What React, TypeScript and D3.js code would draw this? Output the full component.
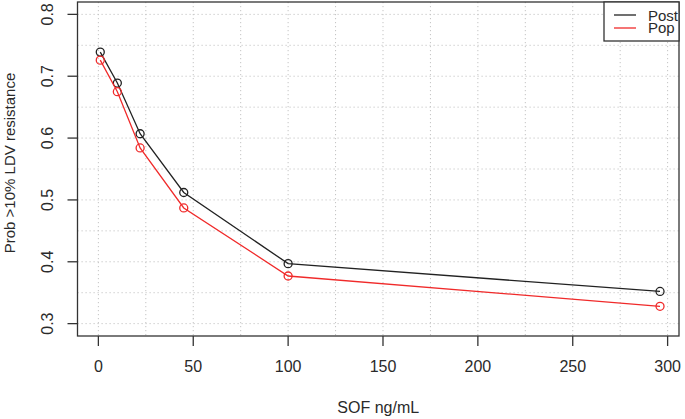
import React from "react";
import * as d3 from "d3";

const sofConc = [1, 10, 22, 45, 100, 296];
const postProb = [0.739, 0.689, 0.607, 0.512, 0.397, 0.352];
const popProb = [0.726, 0.675, 0.584, 0.487, 0.377, 0.328];
const xTicks = [0, 50, 100, 150, 200, 250, 300];
const yTicks = [0.3, 0.4, 0.5, 0.6, 0.7, 0.8];
const xGrid = [0, 25, 50, 75, 100, 125, 150, 175, 200, 225, 250, 275, 300];
const yGrid = [0.3, 0.35, 0.4, 0.45, 0.5, 0.55, 0.6, 0.65, 0.7, 0.75, 0.8];
const seriesNames = ["Post", "Pop"];
const seriesColors = ["#222222", "#f02a2a"];

const W = 685;
const H = 419;
const FONT = "'Liberation Sans', Arial, Helvetica, sans-serif";

export default function App() {
  const x = d3.scaleLinear().domain([-11, 306]).range([77.5, 679]);
  const y = d3.scaleLinear().domain([0.28, 0.82]).range([336, 2]);
  const [x0, x1] = x.range();
  const [y0, y1] = y.range();
  const line = d3
    .line<number>()
    .x((_, i) => x(sofConc[i]))
    .y((d) => y(d));
  const series = [postProb, popProb];

  return (
    <svg
      width={W}
      height={H}
      style={{ position: "absolute", left: 0, top: 0, background: "#fff" }}
      fontFamily={FONT}
    >
      <rect x={0} y={0} width={W} height={H} fill="#fff" />
      {/* grid */}
      <g stroke="#c4c4c4" strokeWidth={1} strokeDasharray="1.2 2.8">
        {xGrid.map((v) => (
          <line key={"gx" + v} x1={x(v)} x2={x(v)} y1={y1} y2={y0} />
        ))}
        {yGrid.map((v) => (
          <line key={"gy" + v} x1={x0} x2={x1} y1={y(v)} y2={y(v)} />
        ))}
      </g>
      {/* series */}
      {series.map((s, si) => (
        <g key={"s" + si} stroke={seriesColors[si]} fill="none" strokeWidth={1.3}>
          <path d={line(s) || ""} />
          {s.map((v, i) => (
            <circle key={i} cx={x(sofConc[i])} cy={y(v)} r={4} />
          ))}
        </g>
      ))}
      {/* box */}
      <rect
        x={x0}
        y={y1}
        width={x1 - x0}
        height={y0 - y1}
        fill="none"
        stroke="#333"
        strokeWidth={1.3}
      />
      {/* ticks */}
      <g stroke="#333" strokeWidth={1.3}>
        {xTicks.map((v) => (
          <line key={"xt" + v} x1={x(v)} x2={x(v)} y1={y0} y2={y0 + 10} />
        ))}
        {yTicks.map((v) => (
          <line key={"yt" + v} x1={x0 - 10} x2={x0} y1={y(v)} y2={y(v)} />
        ))}
      </g>
      <g fontSize={16} fill="#2a2a2a" textAnchor="middle">
        {xTicks.map((v) => (
          <text key={"xl" + v} x={x(v)} y={372}>
            {v}
          </text>
        ))}
        {yTicks.map((v) => (
          <text
            key={"yl" + v}
            transform={`translate(53,${y(v)}) rotate(-90)`}
          >
            {d3.format(".1f")(v)}
          </text>
        ))}
        <text x={(x0 + x1) / 2} y={412.5} fontSize={16}>
          SOF ng/mL
        </text>
        <text transform={`translate(15,163) rotate(-90)`} fontSize={15}>
          Prob &gt;10% LDV resistance
        </text>
      </g>
      {/* legend */}
      <g>
        <rect
          x={604}
          y={y1}
          width={x1 - 604}
          height={39}
          fill="#fff"
          stroke="#333"
          strokeWidth={1.3}
        />
        {seriesNames.map((n, i) => (
          <g key={n}>
            <line
              x1={614}
              x2={636}
              y1={15 + i * 13}
              y2={15 + i * 13}
              stroke={seriesColors[i]}
              strokeWidth={1.3}
            />
            <text x={648} y={20.5 + i * 12} fontSize={15} fill="#2a2a2a">
              {n}
            </text>
          </g>
        ))}
      </g>
    </svg>
  );
}
